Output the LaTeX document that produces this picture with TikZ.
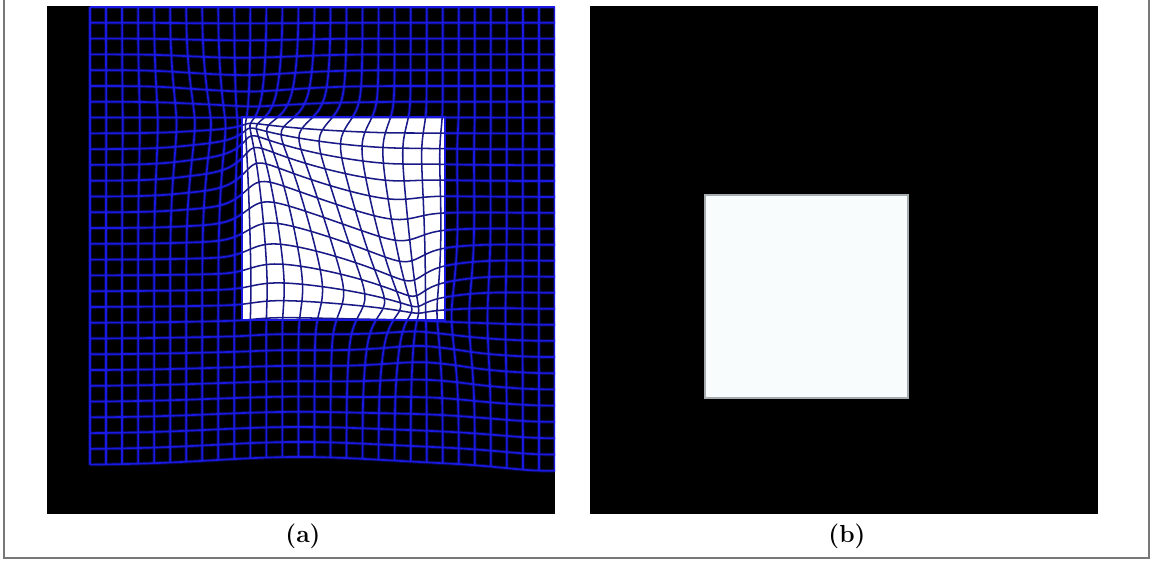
\documentclass[tikz,border=0pt]{standalone}
\definecolor{gridblue}{RGB}{25,25,225}
\definecolor{gridnavy}{RGB}{25,25,135}
\definecolor{framegray}{RGB}{120,120,120}
\definecolor{sqedge}{RGB}{165,172,176}
\definecolor{sqfill}{RGB}{249,252,252}
\newcommand\gcompute[2]{%
  \pgfmathsetmacro\gX{0.90+4.65*#1/58}%
  \pgfmathsetmacro\gY{0.07+4.58*#2/58}%
  \pgfmathsetmacro\gW{min(1,4*#2/58)*min(1,5*#1/58)*min(1,5-5*#1/58)}%
  \pgfmathsetmacro\gSa{1/(1+exp(min(9,max(-9,(2.42-\gX)/0.12))))/(1+exp(min(9,max(-9,(1.18-\gY)/0.12))))}%
  \pgfmathsetmacro\gSb{1/(1+exp(min(9,max(-9,(\gX-4.25)/0.12))))/(1+exp(min(9,max(-9,(\gY-3.20)/0.12))))}%
  \pgfmathsetmacro\gA{\gW*0.9*(0.32+0.68*\gSa)*exp(max(-9,0-((\gX-2.42)^2+(\gY-1.18)^2)/(0.5+0.55*\gSa)))}%
  \pgfmathsetmacro\gB{\gW*0.88*(0.32+0.68*\gSb)*exp(max(-9,0-((\gX-4.25)^2+(\gY-3.20)^2)/(0.32+0.3*\gSb)))}%
  \pgfmathsetmacro\gPX{\gX+(2.42-\gX)*\gA+(4.25-\gX)*\gB}%
  \pgfmathsetmacro\gPY{\gY+(1.18-\gY)*\gA+(3.20-\gY)*\gB+(#2/58)^3*(0.06*exp(0-((\gX-5.5)/0.6)^2)-0.08*exp(0-((\gX-3.0)/1.2)^2))}%
  \expandafter\xdef\csname gp@#1@#2\endcsname{(\gPX,\gPY)}}
\begin{document}
\begin{tikzpicture}[x=75pt,y=-75pt,
  gridline/.style={draw=gridblue, line width=1.25pt, line join=round,
    preaction={draw=gridblue, opacity=0.3, line width=2.7pt}},
  innerline/.style={draw=gridnavy, line width=1.15pt, line join=round},
  caption/.style={font=\fontsize{18.5}{20}\selectfont\bfseries, inner sep=0pt}]
\useasboundingbox (0,0) rectangle (11.53,5.61);
% compute lattice
\foreach \a in {0,...,58}{\foreach \b in {0,...,58}{%
  \ifodd\a\relax \ifodd\b\relax \else \gcompute{\a}{\b}\fi \else \gcompute{\a}{\b}\fi}}
% build line lists
\foreach \i in {0,...,29}{%
  \pgfmathtruncatemacro\aa{2*\i}%
  \gdef\glst{}%
  \foreach \b in {0,...,58}{\xdef\glst{\glst\csname gp@\aa @\b\endcsname}}%
  \expandafter\xdef\csname vl@\i\endcsname{\glst}%
  \gdef\glst{}%
  \foreach \b in {0,...,58}{\xdef\glst{\glst\csname gp@\b @\aa\endcsname}}%
  \expandafter\xdef\csname hl@\i\endcsname{\glst}%
}
% outer frame
\draw[framegray, line width=1.5pt] (0.04,-0.2) rectangle (11.49,5.58);
% panel (a)
\fill[black] (0.47,0.06) rectangle (5.55,5.14);
\begin{scope}
  \clip (0.47,0.06) rectangle (5.55,5.14);
  \foreach \i in {0,...,29} {
    \edef\gcmd{\noexpand\draw[gridline] plot[smooth] coordinates {\csname vl@\i\endcsname};
      \noexpand\draw[gridline] plot[smooth] coordinates {\csname hl@\i\endcsname};}\gcmd
  }
\end{scope}
\fill[white] (2.42,1.17) rectangle (4.45,3.20);
\begin{scope}
  \clip (2.42,1.17) rectangle (4.45,3.20);
  \foreach \i in {0,...,29} {
    \edef\gcmd{\noexpand\draw[innerline] plot[smooth] coordinates {\csname vl@\i\endcsname};
      \noexpand\draw[innerline] plot[smooth] coordinates {\csname hl@\i\endcsname};}\gcmd
  }
\end{scope}
\draw[gridblue, line width=1.3pt] (2.42,1.17) rectangle (4.45,3.20);
% panel (b)
\fill[black] (5.90,0.06) rectangle (10.98,5.14);
\fill[sqfill, draw=sqedge, line width=1.2pt] (7.05,1.95) rectangle (9.08,3.98);
% captions
\node[caption] (capa) at (3.03,5.365) {(a)};
\node[caption] (capb) at (8.47,5.365) {(b)};
\end{tikzpicture}
\end{document}
